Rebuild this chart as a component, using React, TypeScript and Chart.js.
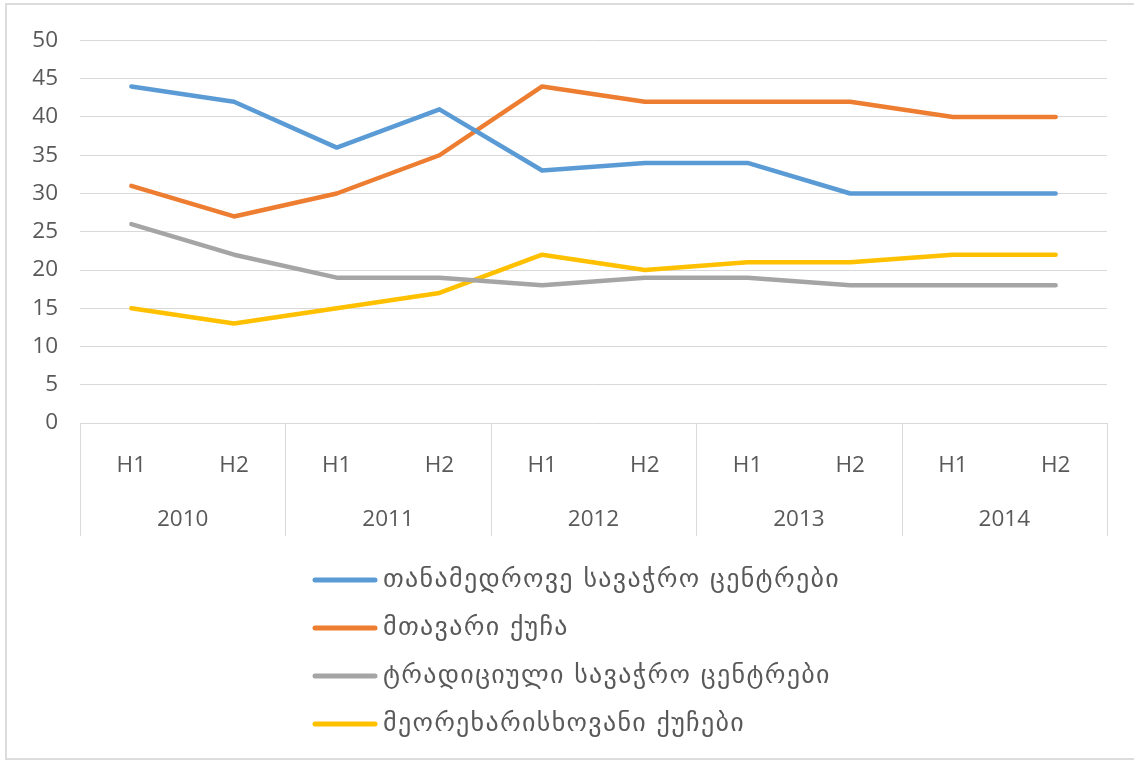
import React, { useEffect, useRef } from "react";
import { Chart, registerables } from "chart.js";

Chart.register(...registerables);

const halfYears = ["H1", "H2", "H1", "H2", "H1", "H2", "H1", "H2", "H1", "H2"];
const years = ["2010", "2011", "2012", "2013", "2014"];
const yTicks = [0, 5, 10, 15, 20, 25, 30, 35, 40, 45, 50];

const seriesNames = [
  "თანამედროვე სავაჭრო ცენტრები",
  "მთავარი ქუჩა",
  "ტრადიციული სავაჭრო ცენტრები",
  "მეორეხარისხოვანი ქუჩები",
];
const modernCenters = [44, 42, 36, 41, 33, 34, 34, 30, 30, 30];
const mainStreet = [31, 27, 30, 35, 44, 42, 42, 42, 40, 40];
const traditionalCenters = [26, 22, 19, 19, 18, 19, 19, 18, 18, 18];
const secondaryStreets = [15, 13, 15, 17, 22, 20, 21, 21, 22, 22];
const colors = ["#5B9BD5", "#ED7D31", "#A5A5A5", "#FFC000"];

const TEXT = "#595959";
const GRID = "#d9d9d9";
const TICK_FONT = { family: "'Open Sans', sans-serif", size: 22.5 };

const groupPlugin = {
  id: "groupAxis",
  afterDraw(chart: any) {
    const { ctx, chartArea, scales } = chart;
    const x = scales.x;
    const top = chartArea.bottom;
    const bottom = top + 113;
    ctx.save();
    ctx.strokeStyle = GRID;
    ctx.lineWidth = 1;
    const bounds: number[] = [chartArea.left];
    for (let g = 1; g < years.length; g++) {
      bounds.push((x.getPixelForValue(2 * g - 1) + x.getPixelForValue(2 * g)) / 2);
    }
    bounds.push(chartArea.right);
    bounds.forEach((bx) => {
      const px = Math.round(bx) + 0.5;
      ctx.beginPath();
      ctx.moveTo(px, top);
      ctx.lineTo(px, bottom);
      ctx.stroke();
    });
    ctx.fillStyle = TEXT;
    ctx.font = `${TICK_FONT.size}px ${TICK_FONT.family}`;
    ctx.textAlign = "center";
    ctx.textBaseline = "middle";
    years.forEach((yr, g) => {
      const cx = (x.getPixelForValue(2 * g) + x.getPixelForValue(2 * g + 1)) / 2;
      ctx.fillText(yr, cx, top + 97);
    });

    // vertical legend
    const lx = 308;
    const ly = chartArea.bottom + 157;
    ctx.font = "26px 'DejaVu Sans', sans-serif";
    try {
      (ctx as any).letterSpacing = "1.3px";
    } catch (e) {}
    ctx.textAlign = "left";
    seriesNames.forEach((name, i) => {
      const cy = ly + i * 48;
      ctx.strokeStyle = colors[i];
      ctx.lineWidth = 5;
      ctx.lineCap = "round";
      ctx.beginPath();
      ctx.moveTo(lx, cy);
      ctx.lineTo(lx + 60, cy);
      ctx.stroke();
      ctx.fillStyle = TEXT;
      ctx.fillText(name, lx + 68, cy);
    });
    ctx.restore();
  },
};

export default function App() {
  const ref = useRef<HTMLCanvasElement>(null);
  useEffect(() => {
    if (!ref.current) return;
    const data = [modernCenters, mainStreet, traditionalCenters, secondaryStreets];
    const chart = new Chart(ref.current, {
      type: "line",
      data: {
        labels: halfYears,
        datasets: data.map((d, i) => ({
          label: seriesNames[i],
          data: d,
          borderColor: colors[i],
          backgroundColor: colors[i],
          borderWidth: 4.5,
          pointRadius: 0,
          tension: 0,
          borderJoinStyle: "round" as const,
          borderCapStyle: "round" as const,
        })),
      },
      options: {
        animation: false,
        responsive: false,
        layout: { padding: { top: 35, right: 36, left: 0, bottom: 222 } },
        plugins: {
          legend: { display: false },
          tooltip: { enabled: false },
        },
        scales: {
          x: {
            offset: true,
            grid: { display: false, drawTicks: false },
            border: { display: false },
            ticks: { color: TEXT, font: TICK_FONT, padding: 29, maxRotation: 0 },
            afterFit(scale: any) {
              scale.height = 113;
            },
          },
          y: {
            min: 0,
            max: 50,
            afterBuildTicks(scale: any) {
              scale.ticks = yTicks.map((v) => ({ value: v }));
            },
            grid: { color: GRID, lineWidth: 1, drawTicks: false },
            border: { display: false },
            ticks: { color: TEXT, font: TICK_FONT, padding: 22 },
            afterFit(scale: any) {
              scale.width = 73;
            },
          },
        },
      },
      plugins: [groupPlugin],
    });
    return () => chart.destroy();
  }, []);
  return (
    <div
      style={{
        position: "absolute",
        left: 5,
        top: 3,
        width: 1140,
        height: 757,
        border: "2px solid #dcdcdc",
        background: "#fff",
        boxSizing: "border-box",
        overflow: "hidden",
      }}
    >
      <canvas ref={ref} width={1136} height={753} style={{ display: "block" }} />
    </div>
  );
}
